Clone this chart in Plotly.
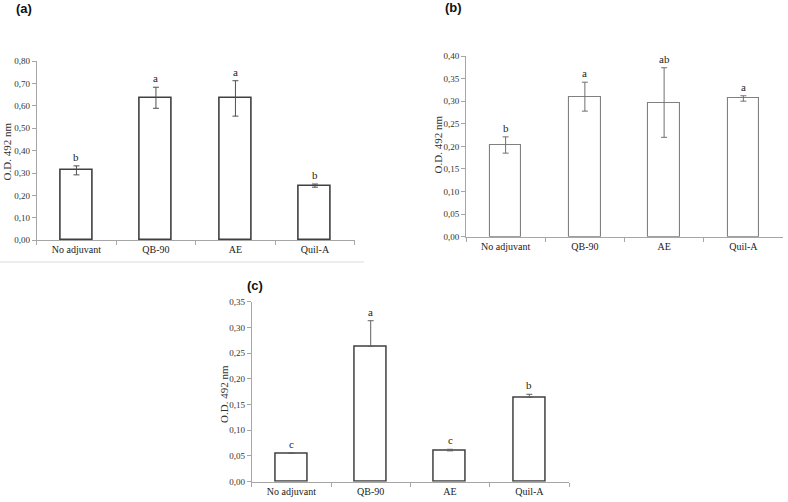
import plotly.graph_objects as go

W, H = 788, 502

categories = ["No adjuvant", "QB-90", "AE", "Quil-A"]

# Panel (a)
a_values = [0.312, 0.636, 0.633, 0.244]
a_errors = [0.020, 0.047, 0.079, 0.007]
a_letters = ["b", "a", "a", "b"]

# Panel (b)
b_values = [0.203, 0.310, 0.297, 0.306]
b_errors = [0.018, 0.032, 0.077, 0.006]
b_letters = ["b", "a", "ab", "a"]

# Panel (c)
c_values = [0.055, 0.263, 0.060, 0.164]
c_errors = [0.001, 0.050, 0.003, 0.006]
c_letters = ["c", "a", "c", "b"]

y_title = "O.D. 492 nm"
panel_labels = ["(a)", "(b)", "(c)"]

SERIF = "Liberation Serif, Times New Roman, serif"
SANS = "Liberation Sans, Arial, sans-serif"


def px_x(px):
    return px / W


def px_y(py):
    return 1 - py / H


fig = go.Figure()

panels = [
    dict(vals=a_values, errs=a_errors, letters=a_letters, line="#404040", lw=1.6,
         ecol="#505050", sym=True, x=("x", "y"), rng=[0, 0.8], dt=0.1,
         xd=[px_x(36.7), px_x(354.7)], yd=[px_y(240.3), px_y(61)]),
    dict(vals=b_values, errs=b_errors, letters=b_letters, line="#808080", lw=1.1,
         ecol="#707070", sym=True, x=("x2", "y2"), rng=[0, 0.4], dt=0.05,
         xd=[px_x(466), px_x(783)], yd=[px_y(236.7), px_y(56)]),
    dict(vals=c_values, errs=c_errors, letters=c_letters, line="#404040", lw=1.5,
         ecol="#606060", sym=False, x=("x3", "y3"), rng=[0, 0.35], dt=0.05,
         xd=[px_x(251.7), px_x(569)], yd=[px_y(481.7), px_y(301.7)]),
]

annotations = []
for i, p in enumerate(panels):
    xa, ya = p["x"]
    if p["sym"]:
        err = dict(type="data", array=p["errs"], visible=True, color=p["ecol"],
                   thickness=1, width=3)
    else:
        err = dict(type="data", array=p["errs"], arrayminus=[0] * len(p["errs"]),
                   symmetric=False, visible=True, color=p["ecol"], thickness=1, width=3)
    fig.add_trace(go.Bar(
        x=categories, y=p["vals"], xaxis=xa, yaxis=ya, width=0.4,
        marker=dict(color="white", line=dict(color=p["line"], width=p["lw"])),
        error_y=err, showlegend=False, hoverinfo="skip",
    ))
    for cat, v, e, t in zip(categories, p["vals"], p["errs"], p["letters"]):
        annotations.append(dict(
            x=cat, y=v + e, xref=xa, yref=ya, text=t, showarrow=False,
            yanchor="bottom", yshift=1, font=dict(family=SERIF, size=11, color="#222"),
        ))
    sfx = "" if i == 0 else str(i + 1)
    fig.update_layout(**{
        "xaxis" + sfx: dict(
            domain=p["xd"], anchor=ya, range=[-0.5, 3.5], type="category",
            showline=True, linecolor="#a6a6a6", linewidth=1, ticks="outside",
            tickson="boundaries", ticklen=4, tickcolor="#a6a6a6", showgrid=False,
            zeroline=False, fixedrange=True, automargin=False,
            tickfont=dict(family=SERIF, size=10, color="#222"),
        ),
        "yaxis" + sfx: dict(
            domain=p["yd"], anchor=xa, range=p["rng"], dtick=p["dt"], tick0=0,
            tickformat=".2f", showline=True, linecolor="#a6a6a6", linewidth=1,
            ticks="outside", ticklen=4, tickcolor="#a6a6a6", showgrid=False,
            zeroline=False, fixedrange=True, automargin=False,
            tickfont=dict(family=SERIF, size=9, color="#333"),
        ),
    })

# Y-axis titles
for xc, yc in [(6.5, 152), (437.5, 145), (224, 394)]:
    annotations.append(dict(
        x=px_x(xc), y=px_y(yc), xref="paper", yref="paper", text=y_title,
        textangle=-90, showarrow=False, xanchor="center", yanchor="middle",
        font=dict(family=SERIF, size=11, color="#333"),
    ))

# Panel labels
for lab, (xc, yc) in zip(panel_labels, [(23.5, 9), (453.5, 8), (255, 285)]):
    annotations.append(dict(
        x=px_x(xc), y=px_y(yc), xref="paper", yref="paper",
        text="<b>" + lab + "</b>", showarrow=False, xanchor="center", yanchor="middle",
        font=dict(family=SANS, size=13, color="#111"),
    ))

fig.update_layout(
    template="none",
    width=W, height=H, margin=dict(l=0, r=0, t=0, b=0, pad=0), autosize=False,
    paper_bgcolor="white", plot_bgcolor="white", separators=",.",
    annotations=annotations, bargap=0,
    shapes=[dict(type="line", xref="paper", yref="paper",
                 x0=0, x1=px_x(364), y0=px_y(262), y1=px_y(262),
                 line=dict(color="#dcdcdc", width=1))],
)

fig.write_html(
    "out.html",
    config={"displayModeBar": False},
    post_script="document.body.style.margin='0px';document.body.style.overflow='hidden';",
)
